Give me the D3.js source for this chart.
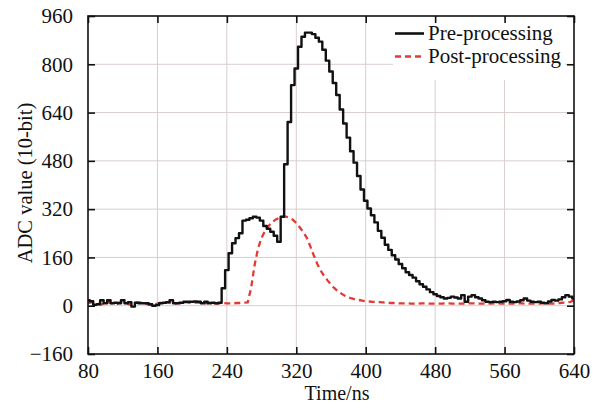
<!DOCTYPE html>
<html>
<head>
<meta charset="utf-8">
<script src="https://cdn.jsdelivr.net/npm/d3@7"></script>
<style>
  html, body { margin: 0; padding: 0; background: #fff; }
  svg { display: block; font-family: "Liberation Serif", "Times New Roman", serif; }
</style>
</head>
<body>
<svg id="chart" width="600" height="405"></svg>
<script>
// sample times (ns), 4 ns steps
const sampleTimes = d3.range(80, 641, 4);

// Pre-processing ADC values
const preValues = [
  18, 15, 3, 5, 18, 8, 18, 8, 10, 8,
  18, 8, 12, -3, 10, 8, 8, 8, 5, 0,
  2, 8, 10, 12, 18, 8, 8, 10, 13, 13,
  13, 14, 13, 8, 13, 8, 10, 8, 10,
  58, 118, 174, 207, 224, 240, 282, 285, 290, 295,
  292, 282, 264, 255, 245, 232, 212, 295, 469, 609,
  731, 786, 858, 891, 905, 905, 900, 888, 875, 848,
  812, 776, 738, 698, 650, 604, 557, 512, 474, 430,
  385, 348, 322, 300, 276, 248, 225, 202, 185, 167,
  153, 138, 124, 111, 102, 93, 81, 71, 63, 54,
  45, 38, 32, 28, 24, 26, 30, 27, 24, 35,
  13, 30, 35, 28, 24, 18, 13, 12, 13, 12,
  13, 15, 19, 13, 12, 14, 18, 24, 17, 13,
  12, 13, 10, 8, 14, 19, 17, 21, 28, 35,
  30, 24
];

// Post-processing ADC values
const postValues = [
  8, 12, 10, 6, 4, 10, 12, 8, 5, 10,
  12, 9, 4, 6, 10, 11, 8, 5, 3, 4,
  7, 10, 12, 10, 8, 6, 9, 11, 12, 10,
  8, 10, 11, 9, 8, 10, 9, 7, 8, 9,
  8, 8, 8, 9, 9, 10, 11,
  60, 135, 190, 225, 248, 264, 276, 285, 291, 295,
  295, 292, 285, 274, 260, 244, 226, 198, 168, 140,
  117, 99, 84, 70, 58, 48, 40, 33, 28, 24,
  21, 19, 17, 15, 14, 13, 12, 12, 11, 10,
  9, 9, 8, 8,
  8, 8, 7, 7, 7, 8, 8, 7, 7, 7,
  7, 7, 8, 8, 7, 7, 7, 7, 7, 8,
  8, 7, 7, 7, 7, 7, 8, 8, 7, 7,
  7, 7, 7, 8, 8, 7, 7, 7, 7, 7,
  8, 8, 7, 7, 8, 9, 10, 11, 13, 18
];

const xTicks = [80, 160, 240, 320, 400, 480, 560, 640];
const yTicks = [-160, 0, 160, 320, 480, 640, 800, 960];
const seriesNames = ["Pre-processing", "Post-processing"];

const pre = sampleTimes.map((t, i) => ({ t, v: preValues[i] }));
const post = sampleTimes.map((t, i) => ({ t, v: postValues[i] }));

const svg = d3.select("#chart");
const M = { top: 16, right: 26, bottom: 51, left: 88 };
const W = 600, H = 405;
const innerW = W - M.left - M.right, innerH = H - M.top - M.bottom;
const g = svg.append("g").attr("transform", `translate(${M.left},${M.top})`);
const FS = "21px";

const x = d3.scaleLinear().domain([80, 640]).range([0, innerW]);
const y = d3.scaleLinear().domain([-160, 960]).range([innerH, 0]);

// grid
const grid = g.append("g").attr("stroke", "#d8cdcd").attr("stroke-width", 1);
grid.selectAll(".gx").data(xTicks.slice(1, -1)).enter().append("line")
  .attr("x1", d => x(d)).attr("x2", d => x(d)).attr("y1", 0).attr("y2", innerH);
grid.selectAll(".gy").data(yTicks.slice(1, -1)).enter().append("line")
  .attr("x1", 0).attr("x2", innerW).attr("y1", d => y(d)).attr("y2", d => y(d));

// series
g.append("path").datum(post)
  .attr("fill", "none").attr("stroke", "#e23b35").attr("stroke-width", 2.3)
  .attr("stroke-dasharray", "6,4")
  .attr("d", d3.line().x(d => x(d.t)).y(d => y(d.v)));
g.append("path").datum(pre)
  .attr("fill", "none").attr("stroke", "#111").attr("stroke-width", 2.4)
  .attr("stroke-linejoin", "round")
  .attr("d", d3.line().x(d => x(d.t)).y(d => y(d.v)).curve(d3.curveStep));

// legend
const lg = g.append("g");
lg.append("rect").attr("x", 305).attr("y", 1).attr("width", 172).attr("height", 63).attr("fill", "#fff");
[0, 1].forEach(i => {
  const ly = 17.5 + i * 23;
  lg.append("line").attr("x1", 307).attr("x2", 336).attr("y1", ly).attr("y2", ly)
    .attr("stroke", i === 0 ? "#111" : "#e23b35").attr("stroke-width", 2.6)
    .attr("stroke-dasharray", i === 0 ? null : "6,4");
  lg.append("text").attr("x", 340).attr("y", ly + 6).style("font-size", FS).attr("fill", "#111")
    .text(seriesNames[i]);
});

// axes: ticks inside on all four sides
const tickLen = 7;
const axB = g.append("g").attr("transform", `translate(0,${innerH})`)
  .call(d3.axisBottom(x).tickValues(xTicks).tickSize(-tickLen).tickPadding(9).tickFormat(d3.format("d")));
const axT = g.append("g")
  .call(d3.axisTop(x).tickValues(xTicks).tickSize(-tickLen).tickFormat(""));
const axL = g.append("g")
  .call(d3.axisLeft(y).tickValues(yTicks).tickSize(-tickLen).tickPadding(15));
const axR = g.append("g").attr("transform", `translate(${innerW},0)`)
  .call(d3.axisRight(y).tickValues(yTicks).tickSize(-tickLen).tickFormat(""));

[axB, axT, axL, axR].forEach(a => {
  a.select(".domain").remove();
  a.selectAll(".tick line").attr("stroke", "#111").attr("stroke-width", 1.6);
  a.selectAll(".tick text").style("font-size", FS).style("font-family", "Liberation Serif, serif").attr("fill", "#111");
});

// frame
g.append("rect").attr("width", innerW).attr("height", innerH)
  .attr("fill", "none").attr("stroke", "#111").attr("stroke-width", 1.6);

// axis titles
svg.append("text").attr("x", M.left + innerW / 2 + 6).attr("y", 400)
  .attr("text-anchor", "middle").style("font-size", "20px").attr("fill", "#111").text("Time/ns");
svg.append("text").attr("transform", `translate(32,${M.top + innerH / 2 - 2}) rotate(-90)`)
  .attr("text-anchor", "middle").style("font-size", "20.5px").attr("fill", "#111").text("ADC value (10-bit)");
</script>
</body>
</html>
